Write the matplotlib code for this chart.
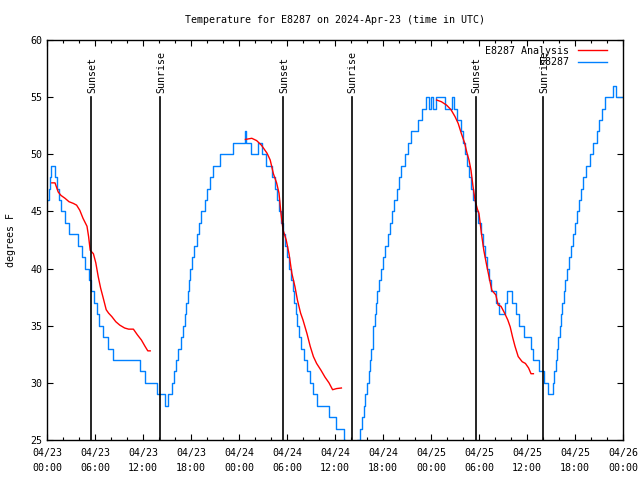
import matplotlib
matplotlib.use('Agg')
import matplotlib.pyplot as plt
import matplotlib.dates as mdates
import numpy as np
import pandas as pd

plt.rcParams['font.family'] = ['DejaVu Sans Mono']
FS = 7.2

start = pd.Timestamp('2024-04-23 00:00')

# observed temperature (F), hours since start -> value, drawn as steps
obs_hours = [0.1, 0.2, 0.35, 0.5, 1.0, 1.25, 1.5, 1.7, 2.2, 2.8, 3.9, 4.4, 4.8, 5.2, 5.5, 5.9, 6.2, 6.5,
             7.0, 7.6, 8.3, 11.6, 12.2, 13.7, 14.8, 15.1, 15.6, 15.9, 16.1, 16.4, 16.7, 17.0, 17.2, 17.4,
             17.6, 17.7, 17.85, 18.1, 18.4, 18.7, 19.0, 19.3, 19.7, 20.0, 20.4, 20.8, 21.6, 23.2, 24.75,
             24.9, 25.5, 26.4, 26.9, 27.4, 28.1, 28.5, 28.8, 29.0, 29.2, 29.5, 29.8, 30.0, 30.3, 30.5,
             30.7, 30.9, 31.1, 31.3, 31.5, 31.8, 32.1, 32.5, 32.9, 33.3, 33.8, 35.2, 36.1, 37.1, 37.3,
             38.7, 39.1, 39.4, 39.6, 39.8, 40.0, 40.2, 40.4, 40.5, 40.7, 40.8, 40.95, 41.1, 41.3, 41.5,
             41.75, 42.0, 42.3, 42.6, 42.9, 43.1, 43.4, 43.7, 44.0, 44.3, 44.7, 45.1, 45.5, 46.4, 46.9,
             47.4, 47.75, 48.0, 48.2, 48.6, 49.8, 50.6, 50.9, 51.3, 51.7, 52.0, 52.3, 52.5, 52.8, 53.0,
             53.3, 53.55, 53.9, 54.2, 54.45, 54.7, 55.0, 55.2, 55.5, 56.1, 56.5, 57.2, 57.5, 58.1, 58.6,
             59.0, 59.6, 60.5, 60.8, 61.5, 62.1, 62.6, 63.2, 63.4, 63.6, 63.75, 63.9, 64.1, 64.25, 64.4,
             64.6, 64.8, 65.0, 65.25, 65.5, 65.75, 66.0, 66.2, 66.5, 66.7, 67.0, 67.4, 67.9, 68.3, 68.7,
             69.0, 69.4, 69.7, 70.8, 71.1, 72.0]
obs_temp = [46, 47, 48, 49, 48, 47, 46, 45, 44, 43, 42, 41, 40, 39, 38, 37, 36, 35,
            34, 33, 32, 31, 30, 29, 28, 29, 30, 31, 32, 33, 34, 35, 36, 37,
            38, 39, 40, 41, 42, 43, 44, 45, 46, 47, 48, 49, 50, 51, 52,
            51, 50, 51, 50, 49, 48, 47, 46, 45, 44, 43, 42, 41, 40, 39,
            38, 37, 36, 35, 34, 33, 32, 31, 30, 29, 28, 27, 26, 25, 24,
            25, 26, 27, 28, 29, 30, 31, 32, 33, 34, 35, 36, 37, 38, 39,
            40, 41, 42, 43, 44, 45, 46, 47, 48, 49, 50, 51, 52, 53, 54,
            55, 54, 55, 54, 55, 54, 55, 54, 53, 52, 51, 50, 49, 48, 47,
            46, 45, 44, 43, 42, 41, 40, 39, 38, 37, 36, 37, 38, 37, 36,
            35, 34, 33, 32, 31, 30, 29, 30, 31, 32, 33, 34, 35, 36, 37,
            38, 39, 40, 41, 42, 43, 44, 45, 46, 47, 48, 49, 50, 51, 52,
            53, 54, 55, 56, 55, 55]

# analysis curve, three evening pieces (NaN separates them)
ana_hours = [0.6, 1.0, 1.4, 1.75, 2.25, 2.75, 3.3, 3.7, 4.1, 4.5, 5.0, 5.2, 5.4, 5.8, 6.1, 6.4, 6.7,
             7.0, 7.4, 7.7, 8.1, 8.6, 9.1, 9.7, 10.2, 10.8, 11.3, 11.8, 12.25, 12.6, 12.9, np.nan,
             24.8, 25.6, 26.2, 26.8, 27.5, 27.9, 28.3, 28.7, 29.0, 29.25, 29.5, 29.9, 30.25, 30.6,
             31.0, 31.3, 31.7, 32.0, 32.5, 32.9, 33.3, 33.7, 34.25, 34.75, 35.25, 35.7, 36.2, 36.8, np.nan,
             48.7, 49.3, 49.95, 50.5, 51.0, 51.4, 51.8, 52.2, 52.5, 52.75, 53.0, 53.25, 53.5, 53.8,
             54.0, 54.3, 54.6, 54.9, 55.25, 55.6, 56.1, 56.4, 56.75, 57.2, 57.6, 57.9, 58.2, 58.5,
             58.9, 59.4, 59.8, 60.2, 60.5, 60.8]
ana_temp = [47.5, 47.5, 46.7, 46.4, 46.15, 45.85, 45.7, 45.55, 45.1, 44.4, 43.7, 42.8, 41.6, 41.3,
            40.5, 39.3, 38.3, 37.5, 36.4, 36.1, 35.8, 35.35, 35.05, 34.8, 34.7, 34.7, 34.2, 33.75,
            33.2, 32.8, 32.8, np.nan,
            51.3, 51.4, 51.2, 50.8, 50.1, 49.5, 48.3, 47.5, 46.6, 44.8, 43.4, 42.5, 41.3, 39.6,
            38.4, 37.25, 36.1, 35.5, 34.3, 33.2, 32.3, 31.7, 31.1, 30.5, 30.0, 29.4, 29.5, 29.55, np.nan,
            54.75, 54.6, 54.3, 53.9, 53.3, 52.7, 51.8, 51.0, 50.1, 49.5, 48.6, 47.2, 46.0, 45.2,
            44.8, 43.1, 41.6, 40.5, 39.3, 38.1, 37.7, 36.8, 36.7, 36.1, 35.5, 34.9, 34.0, 33.2,
            32.3, 31.85, 31.7, 31.3, 30.8, 30.8]

sun_hours = [5.55, 14.15, 29.55, 38.07, 53.57, 62.04]
sun_labels = ['Sunset', 'Sunrise', 'Sunset', 'Sunrise', 'Sunset', 'Sunrise']


def to_time(hours):
    return start + pd.to_timedelta(np.asarray(hours, dtype=float), unit='h')


fig = plt.figure(figsize=(6.4, 4.8), dpi=100)
ax = fig.add_axes([47 / 640, 40 / 480, 576 / 640, 400 / 480])

ax.plot(to_time(ana_hours), ana_temp, color='#ff0000', lw=1.0, label='E8287 Analysis', zorder=3)
ax.plot(to_time(obs_hours), obs_temp, color='#0080ff', lw=1.0, drawstyle='steps-post',
        label='E8287', zorder=2)

for h, lab in zip(sun_hours, sun_labels):
    t = to_time([h])[0]
    ax.plot([t, t], [25, 55], color='black', lw=1.2, zorder=4)
    ax.text(t + pd.Timedelta(hours=0.15), 55.4, lab, rotation=90, ha='center', va='bottom',
            fontsize=FS, zorder=5)

ax.set_xlim(start, start + pd.Timedelta(hours=72))
ax.set_ylim(25, 60)
ax.xaxis.set_major_locator(mdates.HourLocator(byhour=[0, 6, 12, 18]))
ax.xaxis.set_minor_locator(mdates.HourLocator(byhour=range(0, 24, 2)))
ax.xaxis.set_major_formatter(mdates.DateFormatter('%m/%d\n%H:%M'))
ax.set_yticks(range(25, 61, 5))

ax.tick_params(which='both', direction='in', top=True, right=True, labelsize=FS, width=0.8)
ax.tick_params(which='major', length=4)
ax.tick_params(which='minor', length=2.5)
ax.tick_params(axis='x', pad=6)
for lab in ax.get_xticklabels():
    lab.set_linespacing(1.6)
for s in ax.spines.values():
    s.set_linewidth(1.0)

ax.set_ylabel('degrees F', fontsize=FS, labelpad=10)
ax.set_title('Temperature for E8287 on 2024-Apr-23 (time in UTC)', fontsize=FS, pad=12)

leg = ax.legend(loc='upper right', markerfirst=False, frameon=False, fontsize=FS,
                handlelength=2.9, handletextpad=0.9, labelspacing=0.15,
                borderaxespad=0.2, bbox_to_anchor=(0.983, 1.0))

fig.savefig('out.png', dpi=100)
